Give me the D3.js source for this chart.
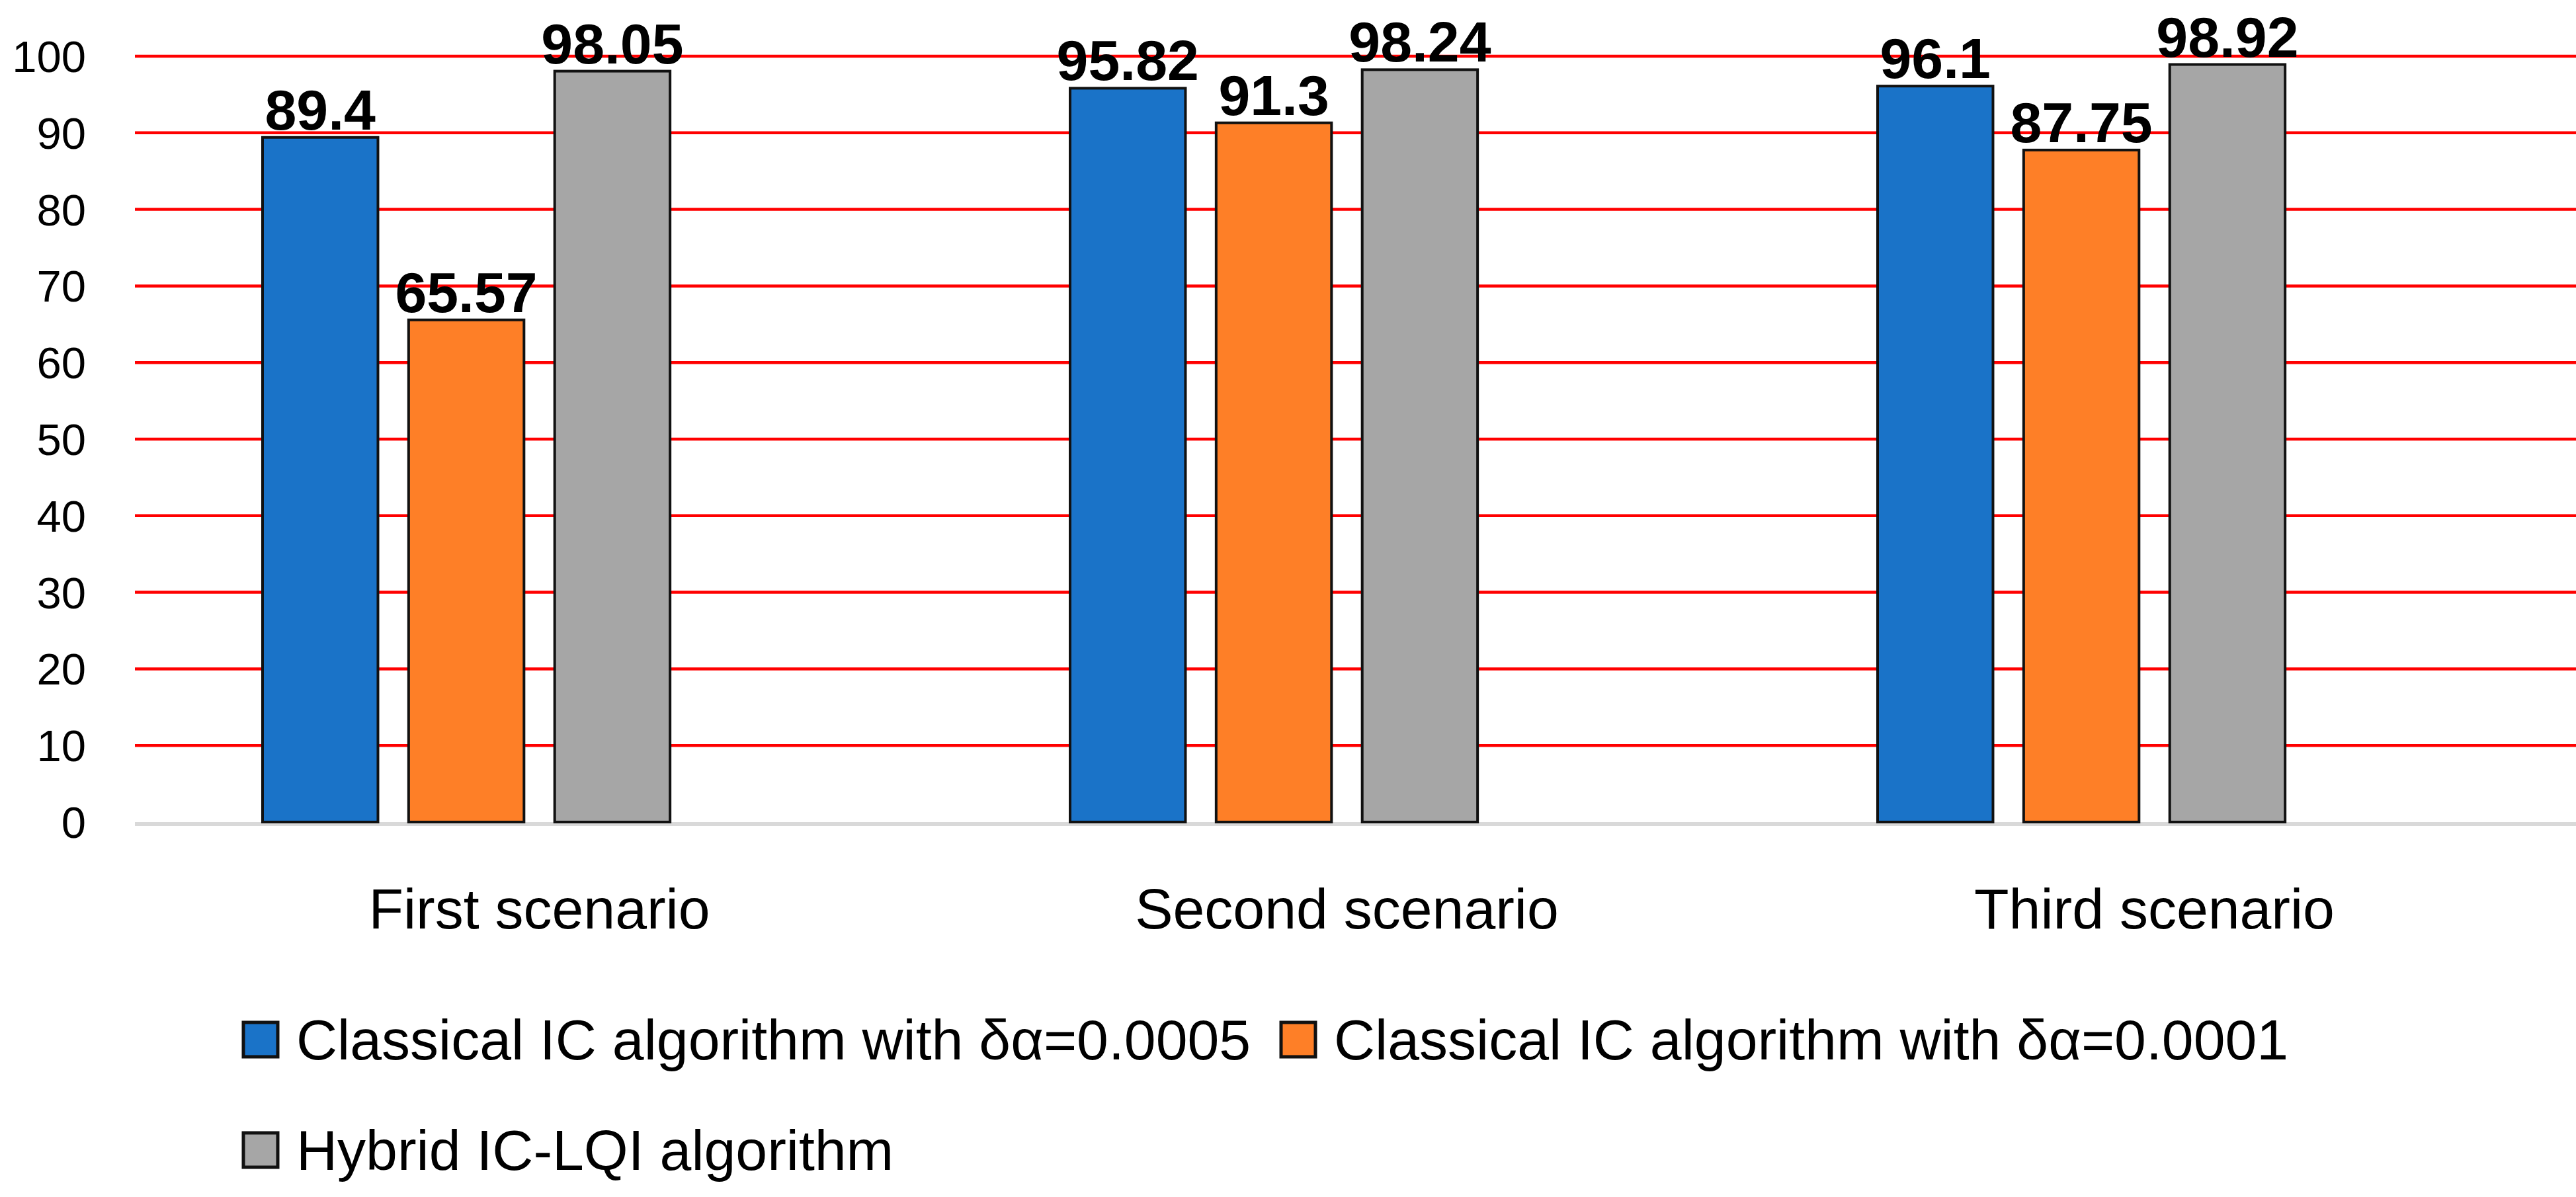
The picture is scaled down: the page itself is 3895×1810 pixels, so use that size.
<!DOCTYPE html>
<html><head><meta charset="utf-8">
<script src="https://cdn.jsdelivr.net/npm/d3@7"></script>
<style>body{margin:0;background:#fff}</style></head>
<body><svg id="c" width="3895" height="1810"></svg>
<script>
const categories = ["First scenario","Second scenario","Third scenario"];
const seriesNames = ["Classical IC algorithm with δα=0.0005","Classical IC algorithm with δα=0.0001","Hybrid IC-LQI algorithm"];
const classical0005 = [89.4, 95.82, 96.1];
const classical0001 = [65.57, 91.3, 87.75];
const hybrid = [98.05, 98.24, 98.92];
const yTicks = [0,10,20,30,40,50,60,70,80,90,100];
const colors = ["#1a73c8","#fe7f27","#a6a6a6"];
const series = [classical0005, classical0001, hybrid];

const font = "'Liberation Sans Narrow','Liberation Sans',sans-serif";
const svg = d3.select("#c");
const y = d3.scaleLinear().domain([0,100]).range([1243,85]);
const x = d3.scaleBand().domain(categories).range([205,3868]);
const inner = d3.scaleBand().domain([0,1,2,3]).range([0,837]).paddingInner(0.21).paddingOuter(0);

svg.append("g").selectAll("line").data(yTicks.filter(d=>d>0)).join("line")
  .attr("x1",204).attr("x2",3895).attr("y1",d=>y(d)).attr("y2",d=>y(d))
  .attr("stroke","#ff0000").attr("stroke-width",4.5);
svg.append("line").attr("x1",204).attr("x2",3895).attr("y1",y(0)+3).attr("y2",y(0)+3)
  .attr("stroke","#d9d9d9").attr("stroke-width",6);
svg.append("g").selectAll("text").data(yTicks).join("text")
  .attr("x",130).attr("y",d=>y(d)+24).attr("text-anchor","end")
  .attr("font-family",font).attr("font-size",67).text(d=>d);

series.forEach((s,si)=>{
  const g = svg.append("g");
  categories.forEach((c,ci)=>{
    const bx = x(c)+x.bandwidth()/2-418.5+inner(si);
    g.append("rect").attr("x",bx).attr("y",y(s[ci])).attr("width",inner.bandwidth())
      .attr("height",y(0)-y(s[ci])).attr("fill",colors[si]).attr("stroke","#111").attr("stroke-width",4);
    g.append("text").attr("x",bx+inner.bandwidth()/2).attr("y",y(s[ci])-12)
      .attr("text-anchor","middle").attr("font-family",font).attr("font-weight","bold")
      .attr("font-size",86).text(s[ci]);
  });
});
svg.append("g").selectAll("text").data(categories).join("text")
  .attr("x",d=>x(d)+x.bandwidth()/2).attr("y",1404).attr("text-anchor","middle")
  .attr("font-family",font).attr("font-size",86).text(d=>d);
const leg = [[368,1572],[1937,1572],[368,1739]];
seriesNames.forEach((n,i)=>{
  svg.append("rect").attr("x",leg[i][0]).attr("y",leg[i][1]-26).attr("width",52).attr("height",52)
    .attr("fill",colors[i]).attr("stroke","#111").attr("stroke-width",5);
  svg.append("text").attr("x",leg[i][0]+80).attr("y",leg[i][1]+30)
    .attr("font-family",font).attr("font-size",86).text(n);
});
</script></body></html>
